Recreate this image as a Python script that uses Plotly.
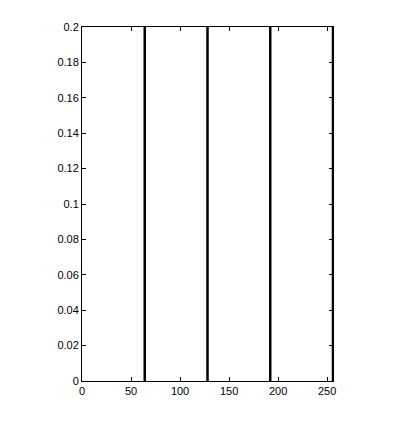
import plotly.graph_objects as go

# data
line_x = [64, 128, 192, 256]
line_top = [0.2, 0.2, 0.2, 0.2]
x_ticks = [0, 50, 100, 150, 200, 250]
y_ticks = [0, 0.02, 0.04, 0.06, 0.08, 0.1, 0.12, 0.14, 0.16, 0.18, 0.2]
y_tick_labels = ["0", "0.02", "0.04", "0.06", "0.08", "0.1", "0.12", "0.14", "0.16", "0.18", "0.2"]

xs, ys = [], []
for x, h in zip(line_x, line_top):
    xs += [x, x, None]
    ys += [0, h, None]

fig = go.Figure()
fig.add_trace(go.Scatter(x=xs, y=ys, mode="lines",
                         line=dict(color="black", width=2.5),
                         showlegend=False, hoverinfo="skip"))

axis_common = dict(showgrid=False, zeroline=False, showline=True, linecolor="black",
                   linewidth=1, mirror="allticks", ticks="inside", ticklen=4,
                   tickcolor="black", tickfont=dict(family="Liberation Sans, Arial", size=11, color="black"))

fig.update_layout(
    width=414, height=432,
    margin=dict(l=74, r=89, t=19, b=59),
    paper_bgcolor="white", plot_bgcolor="white",
    xaxis=dict(range=[0, 256], tickvals=x_ticks, **axis_common),
    yaxis=dict(range=[0, 0.2], tickvals=y_ticks, ticktext=y_tick_labels, **axis_common),
)
fig.write_html("out.html")
